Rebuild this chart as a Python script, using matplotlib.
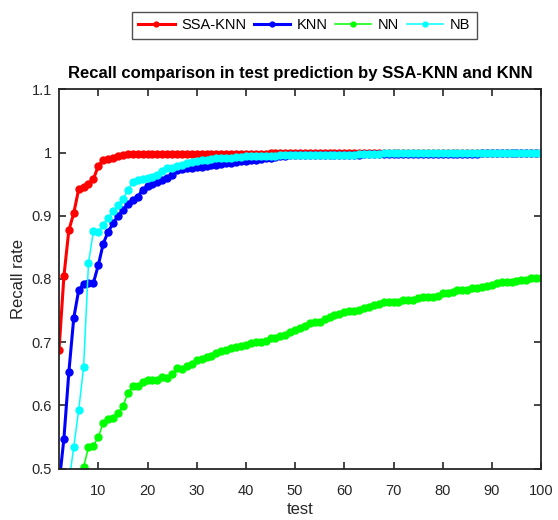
import numpy as np
import matplotlib
matplotlib.use('Agg')
import matplotlib.pyplot as plt

plt.rcParams['font.family'] = ['Liberation Sans', 'DejaVu Sans']

# test index 2..100 (axis starts at 2)
x = np.arange(2, 101)

ssa_knn = [0.687, 0.804, 0.877, 0.904, 0.942, 0.946, 0.950, 0.958, 0.979, 0.988,
           0.990, 0.992, 0.995, 0.997, 0.998, 0.998, 0.998, 0.998, 0.998, 0.998,
           0.998, 0.998, 0.998, 0.998, 0.998, 0.998, 0.998, 0.998, 0.998, 0.998,
           0.998, 0.998, 0.998, 0.998, 0.998, 0.998, 0.998, 0.998, 0.998, 0.998,
           0.998, 0.998, 0.998, 0.999, 0.999, 0.999, 0.999, 0.999, 1.0, 1.0,
           1.0, 1.0, 1.0, 1.0, 1.0, 1.0, 1.0, 1.0, 1.0, 1.0,
           1.0, 1.0, 1.0, 1.0, 1.0, 1.0, 1.0, 1.0, 1.0, 1.0,
           1.0, 1.0, 1.0, 1.0, 1.0, 1.0, 1.0, 1.0, 1.0, 1.0,
           1.0, 1.0, 1.0, 1.0, 1.0, 1.0, 1.0, 1.0, 1.0, 1.0,
           1.0, 1.0, 1.0, 1.0, 1.0, 1.0, 1.0, 1.0, 1.0]

knn = [0.475, 0.547, 0.652, 0.738, 0.782, 0.792, 0.794, 0.794, 0.822, 0.856,
       0.875, 0.888, 0.900, 0.909, 0.919, 0.925, 0.930, 0.941, 0.947, 0.951,
       0.954, 0.956, 0.960, 0.964, 0.972, 0.974, 0.976, 0.976, 0.977, 0.977,
       0.979, 0.980, 0.981, 0.982, 0.983, 0.984, 0.985, 0.986, 0.987, 0.988,
       0.989, 0.990, 0.991, 0.992, 0.993, 0.994, 0.995, 0.996, 0.997, 0.997,
       0.997, 0.997, 0.997, 0.997, 0.997, 0.997, 0.997, 0.997, 0.997, 0.997,
       0.997, 0.997, 0.998, 0.998, 0.998, 0.998, 0.998, 0.998, 0.998, 0.998,
       0.998, 0.998, 0.998, 0.998, 0.998, 0.998, 0.998, 0.998, 0.998, 0.998,
       0.998, 0.998, 0.998, 0.998, 0.998, 0.998, 1.0, 1.0, 1.0, 1.0,
       1.0, 1.0, 1.0, 1.0, 1.0, 1.0, 1.0, 1.0, 1.0]

nn = [0.40, 0.42, 0.44, 0.46, 0.47, 0.502, 0.534, 0.536, 0.550, 0.572,
      0.578, 0.580, 0.588, 0.599, 0.619, 0.631, 0.631, 0.637, 0.640, 0.640,
      0.640, 0.645, 0.644, 0.650, 0.659, 0.658, 0.663, 0.666, 0.671, 0.674,
      0.677, 0.678, 0.683, 0.686, 0.688, 0.691, 0.692, 0.694, 0.696, 0.699,
      0.700, 0.700, 0.702, 0.707, 0.707, 0.709, 0.712, 0.716, 0.719, 0.722,
      0.725, 0.730, 0.732, 0.732, 0.736, 0.740, 0.743, 0.745, 0.747, 0.749,
      0.749, 0.751, 0.754, 0.756, 0.759, 0.761, 0.763, 0.764, 0.763, 0.764,
      0.766, 0.767, 0.767, 0.770, 0.771, 0.772, 0.772, 0.773, 0.778, 0.778,
      0.780, 0.782, 0.782, 0.783, 0.786, 0.786, 0.788, 0.789, 0.790, 0.793,
      0.795, 0.796, 0.796, 0.797, 0.799, 0.799, 0.801, 0.801, 0.801]

nb = [0.44, 0.46, 0.477, 0.534, 0.592, 0.660, 0.825, 0.876, 0.875, 0.886,
      0.896, 0.907, 0.917, 0.926, 0.941, 0.954, 0.957, 0.959, 0.960, 0.962,
      0.965, 0.971, 0.975, 0.976, 0.979, 0.981, 0.983, 0.985, 0.986, 0.988,
      0.989, 0.990, 0.991, 0.991, 0.992, 0.992, 0.993, 0.993, 0.994, 0.994,
      0.994, 0.995, 0.995, 0.995, 0.995, 0.996, 0.996, 0.996, 0.996, 0.997,
      0.997, 0.997, 0.997, 0.997, 0.997, 0.997, 0.997, 0.997, 0.997, 0.997,
      0.997, 0.998, 0.998, 0.998, 0.998, 0.998, 0.999, 0.999, 0.999, 0.999,
      0.999, 0.999, 0.999, 0.999, 0.999, 0.999, 0.999, 0.999, 0.999, 0.999,
      0.999, 0.999, 0.999, 0.999, 0.999, 0.999, 1.0, 1.0, 1.0, 1.0,
      1.0, 1.0, 1.0, 1.0, 1.0, 1.0, 1.0, 1.0, 1.0]

labels = ['SSA-KNN', 'KNN', 'NN', 'NB']

fig = plt.figure(figsize=(5.58, 5.2), dpi=100)
ax = fig.add_axes([0.1057, 0.099, 0.864, 0.729])

ax.plot(x, ssa_knn, '-o', color='#ff0000', lw=2.2, ms=5, label=labels[0])
ax.plot(x, knn, '-o', color='#0000ff', lw=2.2, ms=5, label=labels[1])
ax.plot(x, nn, '-o', color='#00ff00', lw=1.1, ms=5, label=labels[2])
ax.plot(x, nb, '-o', color='#00ffff', lw=1.1, ms=5, label=labels[3])

ax.set_xlim(2, 100)
ax.set_ylim(0.5, 1.1)
ax.set_xticks(np.arange(10, 101, 10))
ax.set_yticks([0.5, 0.6, 0.7, 0.8, 0.9, 1.0, 1.1])
ax.set_yticklabels(['0.5', '0.6', '0.7', '0.8', '0.9', '1', '1.1'])
ax.tick_params(direction='in', top=True, right=True, labelsize=10.5,
               length=5, width=1.2, color='#262626', labelcolor='#262626')
ax.tick_params(axis='x', pad=11)
ax.tick_params(axis='y', pad=5)
for sp in ax.spines.values():
    sp.set_linewidth(1.3)
    sp.set_color('#262626')

ax.set_xlabel('test', fontsize=12, color='#262626', labelpad=3)
ax.set_ylabel('Recall rate', fontsize=12, color='#262626', labelpad=4)
ax.set_title('Recall comparison in test prediction by SSA-KNN and KNN',
             fontsize=12, fontweight='bold', pad=8)

leg = fig.legend(loc='center', bbox_to_anchor=(0.545, 0.951), ncol=4,
                 fontsize=10.5, frameon=True, fancybox=False, edgecolor='#262626',
                 handlelength=2.5, handletextpad=0.45, columnspacing=0.5,
                 borderpad=0.45, markerscale=0.7)
leg.get_frame().set_linewidth(1.0)

fig.savefig('out.png', dpi=100)
